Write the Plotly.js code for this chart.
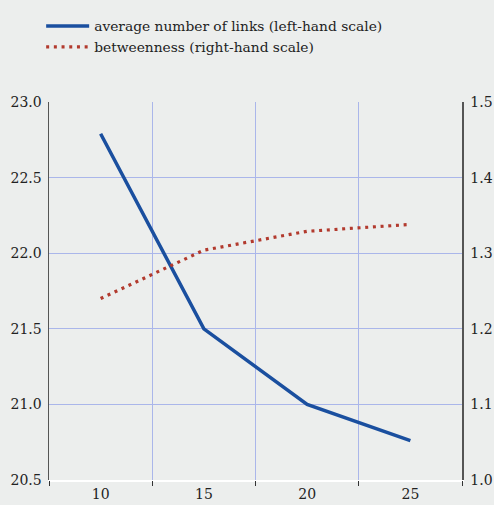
<!DOCTYPE html>
<html>
<head>
<meta charset="utf-8">
<script src="https://cdn.plot.ly/plotly-3.0.1.min.js"></script>
<style>html,body{margin:0;padding:0;background:#eceeed;}#chart{width:494px;height:505px;}</style>
</head>
<body>
<div id="chart"></div>
<script>
var sizes = [10, 15, 20, 25];
var avgLinks = [22.79, 21.5, 21.0, 20.76];
var betweenness = [1.24, 1.304, 1.329, 1.338];
var xTickLabels = ['10', '15', '20', '25'];
var xGridVals = [7.5, 12.5, 17.5, 22.5, 27.5];

var legendFont = {family: 'DejaVu Serif', size: 13.8, color: '#222'};
var tickFont = {family: 'DejaVu Serif', size: 14, color: '#222'};
var gridColor = '#aab6ea';

var traces = [
  {x: sizes, y: avgLinks, type: 'scatter', mode: 'lines', name: 'average number of links (left-hand scale)',
   line: {color: '#1a4f9f', width: 3.5}, xaxis: 'x', yaxis: 'y'},
  {x: sizes, y: betweenness, type: 'scatter', mode: 'lines', name: 'betweenness (right-hand scale)',
   line: {color: '#b23a2e', width: 3.2, dash: '3px,4.7px'}, xaxis: 'x', yaxis: 'y2'},
  {x: [xGridVals[0]], y: [avgLinks[0]], type: 'scatter', mode: 'markers', marker: {opacity: 0},
   showlegend: false, hoverinfo: 'skip', xaxis: 'x2', yaxis: 'y'}
];

var layout = {
  width: 494, height: 505,
  paper_bgcolor: '#eceeed', plot_bgcolor: '#eceeed',
  font: legendFont,
  margin: {l: 49, r: 32, t: 102, b: 25, autoexpand: false},
  showlegend: true,
  legend: {x: -0.019, xanchor: 'left', y: 1.242, yanchor: 'top', bgcolor: 'rgba(0,0,0,0)',
           font: legendFont, tracegroupgap: 0, itemwidth: 43},
  xaxis: {range: [7.5, 27.5], tickvals: sizes, ticktext: xTickLabels, ticks: '', showgrid: false,
          zeroline: false, showline: true, linecolor: '#ffffff', linewidth: 2, tickfont: tickFont,
          fixedrange: true},
  xaxis2: {range: [7.5, 27.5], overlaying: 'x', side: 'bottom', tickvals: xGridVals, showticklabels: false,
           ticks: 'outside', ticklen: 5, tickcolor: '#333', tickwidth: 1, showgrid: true, gridcolor: gridColor,
           gridwidth: 1, zeroline: false, showline: false},
  yaxis: {range: [20.5, 23.0], dtick: 0.5, tick0: 20.5, tickformat: '.1f', ticks: '', showgrid: true,
          gridcolor: gridColor, gridwidth: 1, zeroline: false, showline: true, linecolor: '#555', linewidth: 1.5,
          tickfont: tickFont, ticklabelstandoff: 3},
  yaxis2: {range: [1.0, 1.5], dtick: 0.1, tick0: 1.0, tickformat: '.1f', overlaying: 'y', side: 'right',
           ticks: '', showgrid: false, zeroline: false, showline: true, linecolor: '#555', linewidth: 1.5,
           tickfont: tickFont, ticklabelstandoff: 4}
};

Plotly.newPlot('chart', traces, layout, {displayModeBar: false, staticPlot: true});
</script>
</body>
</html>
